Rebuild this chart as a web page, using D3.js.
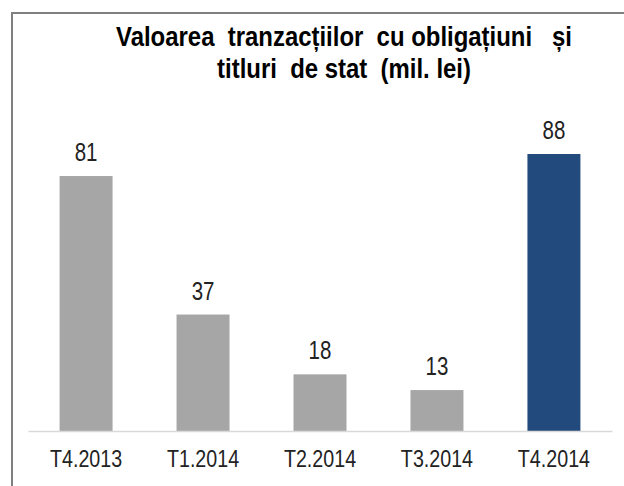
<!DOCTYPE html>
<html>
<head>
<meta charset="utf-8">
<script src="https://cdn.jsdelivr.net/npm/d3@7"></script>
<style>
  body { margin: 0; background: #fff; }
  svg { display: block; }
  text { font-family: "Liberation Sans Narrow", "Arial Narrow", "Liberation Sans", sans-serif; }
</style>
</head>
<body>
<div id="container"></div>
<script>
// chart data
let categories = ["T4.2013", "T1.2014", "T2.2014", "T3.2014", "T4.2014"];
let values = [81, 37, 18, 13, 88];
let titleLines = ["Valoarea  tranzacțiilor  cu obligațiuni   și", "titluri  de stat  (mil. lei)"];

let w = 624;
let h = 486;
let NARROW = 0.82; // no narrow font installed, so squeeze the regular one

let viz = d3.select('#container')
    .append('svg')
    .attr('width', w)
    .attr('height', h);

// frame (runs off the right and bottom of the picture)
viz.append('rect')
    .attr('x', 12)
    .attr('y', 13)
    .attr('width', 700)
    .attr('height', 600)
    .attr('fill', 'white')
    .attr('stroke', '#808080')
    .attr('stroke-width', 2);

// title
viz.append('text')
    .attr('transform', `translate(344,0) scale(0.855,1)`)
    .attr('text-anchor', 'middle')
    .attr('font-weight', 'bold')
    .attr('font-size', 28)
    .attr('fill', '#000')
    .style('white-space', 'pre')
    .selectAll('tspan')
    .data(titleLines)
    .enter()
    .append('tspan')
    .attr('x', 0)
    .attr('y', (d, i) => 46 + i * 32)
    .text(d => d);

// scales
let xScale = d3.scaleBand()
    .domain(categories)
    .range([28, 612])
    .paddingInner(0.547)
    .paddingOuter(0.27);

let yScale = d3.scaleLinear()
    .domain([0, 88])
    .range([431, 154]);

// bars
let graphGroup = viz.append('g').classed('graphGroup', true);
let data = categories.map((c, i) => ({ key: c, value: values[i] }));

graphGroup.selectAll('rect')
    .data(data)
    .enter()
    .append('rect')
    .attr('x', d => xScale(d.key))
    .attr('y', d => yScale(d.value))
    .attr('width', xScale.bandwidth())
    .attr('height', d => yScale(0) - yScale(d.value))
    .attr('fill', (d, i) => i == data.length - 1 ? '#234a7d' : '#a6a6a6');

// value labels
graphGroup.selectAll('.valueLabel')
    .data(data)
    .enter()
    .append('text')
    .classed('valueLabel', true)
    .attr('transform', d => `translate(${xScale(d.key) + xScale.bandwidth() / 2},${yScale(d.value) - 15}) scale(${NARROW},1)`)
    .attr('text-anchor', 'middle')
    .attr('font-size', 25)
    .attr('fill', '#222')
    .text(d => d.value);

// x axis
let xAxisGroup = viz.append('g').classed('xAxis', true)
    .attr('transform', `translate(0,431)`)
    .call(d3.axisBottom(xScale).tickSize(0).tickPadding(0).tickSizeOuter(0));
xAxisGroup.select('.domain').attr('stroke', '#d9d9d9').attr('stroke-width', 1.5);
xAxisGroup.selectAll('text')
    .attr('font-size', 24)
    .attr('fill', '#222')
    .attr('font-family', '"Liberation Sans Narrow", "Arial Narrow", "Liberation Sans", sans-serif')
    .attr('dy', null)
    .attr('y', 0)
    .attr('transform', `translate(0,36) scale(${NARROW},1)`);
</script>
</body>
</html>
